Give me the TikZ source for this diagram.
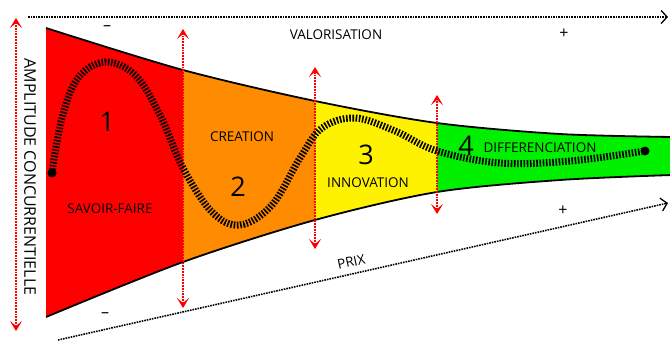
\documentclass[tikz,border=0pt]{standalone}
\usepackage{fontspec}
\setmainfont{Open Sans}
\usetikzlibrary{arrows.meta}
\tikzset{
	axe/.style={densely dotted, line width=1.6pt, -{Straight Barb[length=6pt,width=13pt,line width=1.3pt]}},
	borne/.style={red, densely dotted, line width=1.8pt,
		{Stealth[length=10pt,width=12pt,inset=5pt]}-{Stealth[length=10pt,width=12pt,inset=5pt]}},
	bord/.style={line width=1.8pt},
	etiquette/.style={font=\fontsize{13.5}{14}\selectfont, text=black},
	chiffre/.style={font=\fontsize{27}{27}\selectfont, text=black},
	signe/.style={font=\fontsize{16}{16}\selectfont, text=black},
	rail/.style={line width=7pt, dash pattern=on 1.6pt off 1.6pt, black}}

\definecolor{orangeC}{RGB}{255,140,0}
\definecolor{vertD}{RGB}{0,240,0}

\begin{document}
\begin{tikzpicture}[x=1pt, y=-1pt]
	\useasboundingbox (0,0) rectangle (670,342);

	% entonnoir, colore par phase
	\begin{scope}
		\clip plot[smooth] coordinates {(46,28) (183,70) (315,101) (437,123) (560,134) (672,137)}
			-- plot[smooth] coordinates {(672,175) (560,180) (437,192) (315,220) (183,262) (46,317)} -- cycle;
		\fill[red] (46,0) rectangle (183,342);
		\fill[orangeC] (183,0) rectangle (315,342);
		\fill[yellow] (315,0) rectangle (437,342);
		\fill[vertD] (437,0) rectangle (672,342);
	\end{scope}
	\draw[bord] plot[smooth] coordinates {(46,28) (183,70) (315,101) (437,123) (560,134) (672,137)};
	\draw[bord] plot[smooth] coordinates {(46,317) (183,262) (315,220) (437,192) (560,180) (672,175)};

	% axes
	\coordinate (val-g) at (28,17);
	\coordinate (val-d) at (668,17);
	\coordinate (prix-g) at (58,340);
	\coordinate (prix-d) at (668,203);
	\coordinate (amp-h) at (16,18);
	\coordinate (amp-b) at (16,331);

	\draw[axe] (val-g) -- (val-d);
	\draw[axe] (prix-g) -- node[pos=0.485, above=3pt, sloped, etiquette] (prix) {PRIX} (prix-d);
	\draw[borne] (amp-b) -- (amp-h);

	% limites des phases
	\coordinate (h1) at (183,29);
	\coordinate (b1) at (183,308);
	\coordinate (h2) at (315,67);
	\coordinate (b2) at (315,249);
	\coordinate (h3) at (437,95);
	\coordinate (b3) at (437,214);

	\draw[borne] (b1) -- (h1);
	\draw[borne] (b2) -- (h2);
	\draw[borne] (b3) -- (h3);

	% trajectoire
	\coordinate (depart) at (52,173);
	\coordinate (arrivee) at (645,151);
	\draw[rail] plot[smooth, tension=0.6] coordinates {(depart) (62,118) (78,78) (105,62) (135,75) (160,115) (183,168) (212,212) (240,225) (272,205) (300,158) (322,128) (355,118) (395,131) (437,151) (500,163) (570,161) (arrivee)};
	\fill (depart) circle (4.5);
	\fill (arrivee) circle (4.5);

	% textes
	\node[etiquette, font=\fontsize{13.5}{14}\selectfont] (valo) at (336,35) {VALORISATION};
	\node[etiquette, rotate=-90, font=\fontsize{16}{16}\selectfont] (amp) at (30,177) {AMPLITUDE CONCURRENTIELLE};

	\node[chiffre] (un) at (107,122) {1};
	\node[chiffre] (deux) at (238,187) {2};
	\node[chiffre] (trois) at (366,155) {3};
	\node[chiffre] (quatre) at (466,146) {4};

	\node[etiquette] (savoir) at (110,209) {SAVOIR-FAIRE};
	\node[etiquette] (creation) at (242,137) {CREATION};
	\node[etiquette] (innov) at (368,183) {INNOVATION};
	\node[etiquette] (diff) at (540,148) {DIFFERENCIATION};

	\node[signe] (moins-h) at (107,28) {--};
	\node[signe] (moins-b) at (105,315) {--};
	\node[signe] (plus-h) at (564,34) {+};
	\node[signe] (plus-b) at (563,211) {+};
\end{tikzpicture}
\end{document}
